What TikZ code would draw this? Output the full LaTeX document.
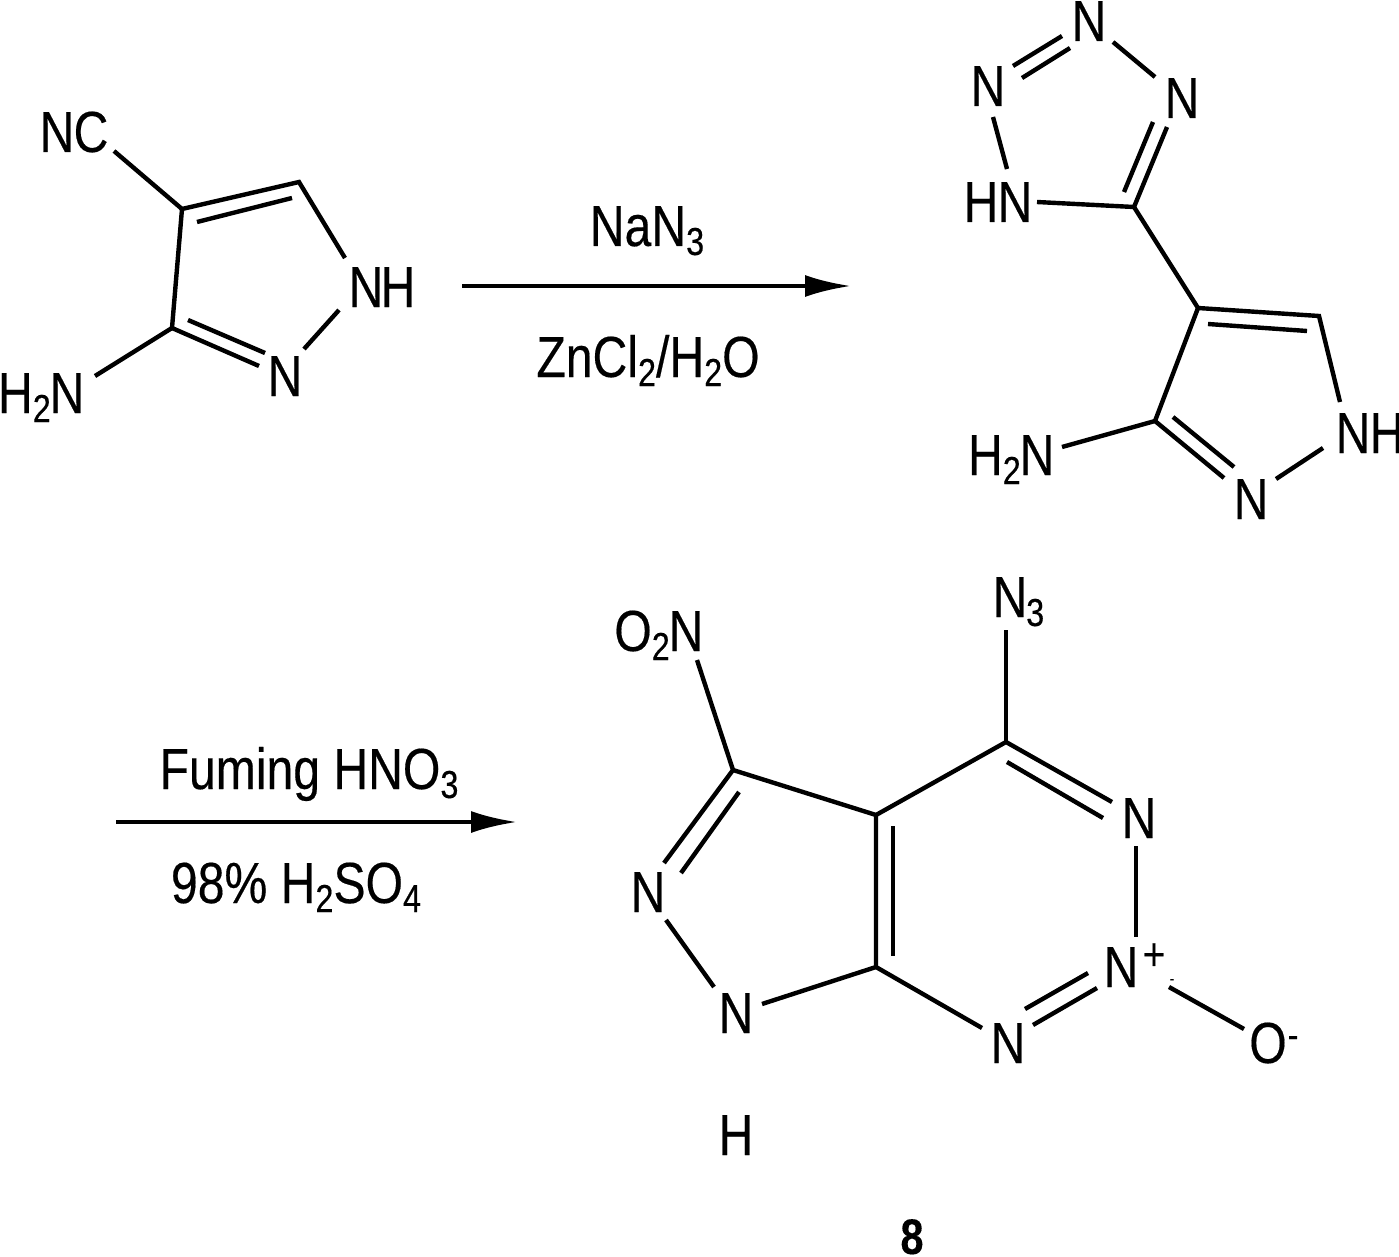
\documentclass[tikz,border=0pt]{standalone}
\usepackage{fontspec}
\setmainfont[FakeStretch=0.83,FakeBold=0.3]{Liberation Sans}
\usetikzlibrary{calc,arrows.meta}
\newcommand\subs[1]{\raisebox{-9pt}{\fontsize{39}{39}\selectfont #1}}
\tikzset{
 x=1pt,y=-1pt,
 bond/.style={line width=4.4pt,line cap=butt,line join=miter},
 atom/.style={font=\fontsize{58}{58}\selectfont,inner sep=0pt,text height=42pt,text depth=0pt,yshift=1pt},
 lbl/.style={atom},
 rxn/.style={line width=4.2pt,-{Latex[length=46pt,width=22pt]}},
}
\begin{document}
\begin{tikzpicture}
\useasboundingbox (0,0) rectangle (1399,1257);
% ---------- molecule 1
\node[atom] (a1n) at (57,132) {N};
\node[atom] (a1c) at (91,132) {C};
\node[atom] (a1nh) at (366,287) {N};
\node[atom] (a1h) at (398,287) {H};
\node[atom] (a1n2) at (285,376) {N};
\node[atom] (a1nh2) at (67,393) {N};
\node[lbl,anchor=east] (a1h2) at (51,393) {H\subs{2}};
\coordinate (a1c4) at (182,209);
\coordinate (a1c5) at (299,182);
\coordinate (a1c3) at (172,328);
\coordinate (a1e1) at (114,151);
\coordinate (a1e2) at (345,258);
\coordinate (a1e3) at (339,310);
\coordinate (a1e4) at (304,349);
\coordinate (a1e5) at (259,366);
\coordinate (a1e6) at (95,376);
\coordinate (a1i1) at (197,222);
\coordinate (a1i2) at (292,198);
\coordinate (a1i3) at (188,320);
\coordinate (a1i4) at (265,353);
\draw[bond] (a1e1) -- (a1c4);
\draw[bond] (a1c4) -- (a1c5) -- (a1e2);
\draw[bond] (a1i1) -- (a1i2);
\draw[bond] (a1e3) -- (a1e4);
\draw[bond] (a1e5) -- (a1c3) -- (a1c4);
\draw[bond] (a1i3) -- (a1i4);
\draw[bond] (a1c3) -- (a1e6);
% ---------- arrow 1
\coordinate (r1s) at (462,286);
\coordinate (r1e) at (851,286);
\draw[rxn] (r1s) -- (r1e);
\node[lbl] (r1t) at (647,226) {NaN\subs{3}};
\node[lbl] (r1b) at (648,357) {ZnCl\subs{2}/H\subs{2}O};
% ---------- molecule 2
\node[atom] (b1) at (1089,21) {N};
\node[atom] (b2) at (1182,98) {N};
\node[atom] (b3) at (988,86) {N};
\node[atom] (b4) at (1015,202) {N};
\node[atom] (b4h) at (981,202) {H};
\node[atom] (b8) at (1353,433) {N};
\node[atom] (b8h) at (1387,433) {H};
\node[atom] (b9) at (1251,499) {N};
\node[atom] (b11) at (1037,455) {N};
\node[lbl,anchor=east] (b11h) at (1021,455) {H\subs{2}};
\coordinate (b5) at (1134,207);
\coordinate (b6) at (1198,308);
\coordinate (b7) at (1319,316);
\coordinate (b10) at (1155,421);
\coordinate (be1) at (1013,66);
\coordinate (be2) at (1062,36);
\coordinate (be3) at (1022,78);
\coordinate (be4) at (1070,48);
\coordinate (be5) at (1113,42);
\coordinate (be6) at (1155,77);
\coordinate (be7) at (1167,127);
\coordinate (be8) at (1153,122);
\coordinate (be9) at (1124,192);
\coordinate (be10) at (1037,202);
\coordinate (be11) at (993,117);
\coordinate (be12) at (1007,169);
\coordinate (be13) at (1208,324);
\coordinate (be14) at (1307,331);
\coordinate (be15) at (1340,402);
\coordinate (be16) at (1323,448);
\coordinate (be17) at (1276,479);
\coordinate (be18) at (1224,478);
\coordinate (be19) at (1173,417);
\coordinate (be20) at (1234,467);
\coordinate (be21) at (1062,447);
\draw[bond] (be1) -- (be2);
\draw[bond] (be3) -- (be4);
\draw[bond] (be5) -- (be6);
\draw[bond] (be7) -- (b5) -- (be10);
\draw[bond] (be8) -- (be9);
\draw[bond] (be11) -- (be12);
\draw[bond] (b5) -- (b6);
\draw[bond] (b10) -- (b6) -- (b7) -- (be15);
\draw[bond] (be13) -- (be14);
\draw[bond] (be16) -- (be17);
\draw[bond] (be18) -- (b10) -- (be21);
\draw[bond] (be19) -- (be20);
% ---------- arrow 2
\coordinate (r2s) at (116,822);
\coordinate (r2e) at (517,822);
\draw[rxn] (r2s) -- (r2e);
\node[lbl] (r2t) at (309,769) {Fuming HNO\subs{3}};
\node[lbl] (r2b) at (296,883) {98\% H\subs{2}SO\subs{4}};
% ---------- molecule 3
\node[atom] (c4) at (1139,818) {N};
\node[atom] (c5) at (1121,967) {N};
\node[atom] (c6) at (1008,1043) {N};
\node[atom] (c8) at (736,1013) {N};
\node[atom] (c9) at (648,892) {N};
\node[atom] (c10) at (686,631) {N};
\node[lbl,anchor=east] (c10o) at (670,631) {O\subs{2}};
\node[atom] (c11) at (1010,597) {N};
\node[lbl,anchor=west] (c11s) at (1026,597) {\subs{3}};
\node[atom] (c12) at (1268,1043) {O};
\node[lbl,font=\fontsize{39}{39}\selectfont] (c12m) at (1293,1028) {-};
\node[lbl,font=\fontsize{46}{46}\selectfont] (c5p) at (1154,950) {+};
\node[lbl,font=\fontsize{16}{16}\selectfont] (c5m) at (1172,964) {-};
\node[lbl] (c13) at (736,1135) {H};
\node[lbl,font=\fontsize{50}{50}\selectfont\bfseries] (c14) at (912,1234) {8};
\coordinate (c1) at (733,770);
\coordinate (c2) at (876,815);
\coordinate (c3) at (1006,742);
\coordinate (c7) at (876,967);
\coordinate (ce1) at (1112,802);
\coordinate (ce2) at (1007,762);
\coordinate (ce3) at (1103,818);
\coordinate (ce4) at (1136,846);
\coordinate (ce5) at (1136,937);
\coordinate (ce6) at (1025,1009);
\coordinate (ce7) at (1088,973);
\coordinate (ce8) at (1033,1025);
\coordinate (ce9) at (1097,988);
\coordinate (ce10) at (1169,987);
\coordinate (ce11) at (1244,1029);
\coordinate (ce12) at (982,1028);
\coordinate (ce13) at (893,826);
\coordinate (ce14) at (893,956);
\coordinate (ce15) at (762,1004);
\coordinate (ce16) at (666,920);
\coordinate (ce17) at (714,987);
\coordinate (ce18) at (664,863);
\coordinate (ce19) at (739,792);
\coordinate (ce20) at (681,873);
\coordinate (ce21) at (697,660);
\coordinate (ce22) at (1006,630);
\draw[bond] (c1) -- (c2) -- (c3) -- (ce1);
\draw[bond] (ce2) -- (ce3);
\draw[bond] (ce4) -- (ce5);
\draw[bond] (ce6) -- (ce7);
\draw[bond] (ce8) -- (ce9);
\draw[bond] (ce10) -- (ce11);
\draw[bond] (ce12) -- (c7) -- (c2);
\draw[bond] (ce13) -- (ce14);
\draw[bond] (c7) -- (ce15);
\draw[bond] (ce16) -- (ce17);
\draw[bond] (ce18) -- (c1) -- (ce21);
\draw[bond] (ce19) -- (ce20);
\draw[bond] (c3) -- (ce22);
\end{tikzpicture}
\end{document}
